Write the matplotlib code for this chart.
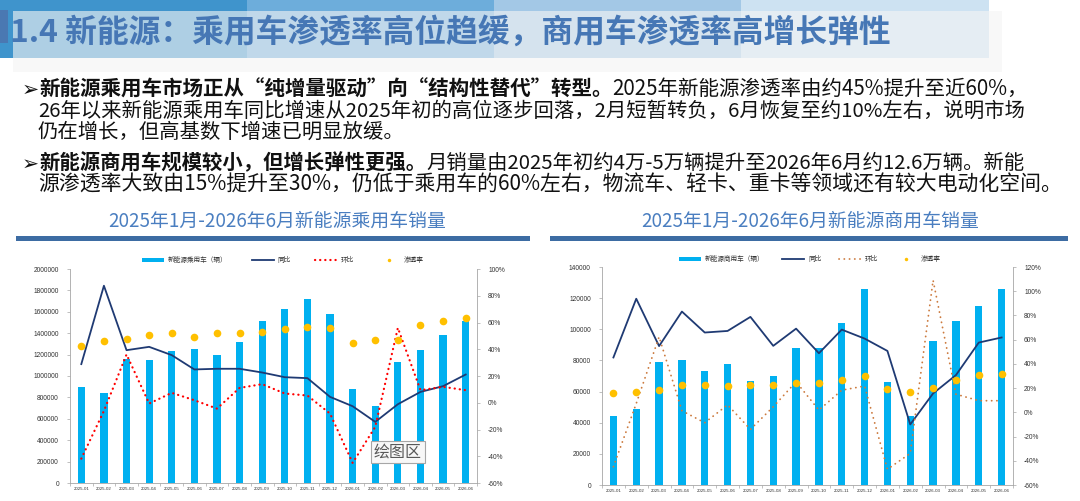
import matplotlib
matplotlib.use('Agg')
import matplotlib.pyplot as plt
from matplotlib.patches import Rectangle, Patch
from matplotlib.lines import Line2D
from matplotlib.ticker import FuncFormatter, MultipleLocator
import numpy as np

CJK = ['Noto Sans CJK SC', 'DejaVu Sans']
plt.rcParams['font.family'] = CJK
plt.rcParams['axes.unicode_minus'] = False

# ---------------- data ----------------
months = ['2025-01', '2025-02', '2025-03', '2025-04', '2025-05', '2025-06',
          '2025-07', '2025-08', '2025-09', '2025-10', '2025-11', '2025-12',
          '2026-01', '2026-02', '2026-03', '2026-04', '2026-05', '2026-06']

pv_sales = [900000, 840000, 1155000, 1145000, 1235000, 1250000, 1195000, 1320000, 1510000,
            1622000, 1719000, 1582000, 874000, 718000, 1130000, 1239000, 1379000, 1510000]
pv_yoy = [28.9, 87.5, 39.3, 41.8, 35.6, 24.9, 25.4, 25.4, 22.6, 19.1, 18.4, 4.4,
          -2.6, -14.3, -1.1, 8.1, 12.4, 21.1]
pv_mom = [-41.8, -6.1, 36.1, -0.6, 7.4, 1.9, -4.4, 11.1, 13.9, 6.9, 5.4, -8.1,
          -45.0, -18.0, 56.0, 9.4, 11.9, 9.4]
pv_pen = [42.3, 46.3, 47.3, 51.0, 52.5, 49.3, 52.5, 52.3, 53.0, 54.8, 56.3, 55.8,
          44.4, 47.1, 47.1, 58.1, 61.4, 63.1]

cv_sales = [44000, 49000, 79300, 80000, 73200, 78000, 66900, 70300, 88300, 88300,
            104300, 126000, 66300, 44200, 92300, 105600, 115000, 126000]
cv_yoy = [45.3, 93.8, 54.7, 83.2, 65.9, 67.2, 78.8, 54.9, 69.1, 48.8, 68.3, 60.9,
          50.7, -10.0, 15.6, 30.7, 57.6, 61.8]
cv_mom = [-44.9, 7.3, 62.3, 1.3, -8.6, 6.2, -14.1, 4.6, 25.2, 1.8, 18.3, 21.7,
          -47.0, -33.9, 109.0, 15.0, 9.6, 9.6]
cv_pen = [15.6, 16.4, 18.3, 22.7, 22.7, 21.6, 22.7, 22.5, 24.6, 24.6, 27.1, 30.4,
          18.9, 16.7, 20.0, 26.6, 30.7, 31.5]

title_main = '1.4 新能源：乘用车渗透率高位趋缓，商用车渗透率高增长弹性'
pv_title = '2025年1月-2026年6月新能源乘用车销量'
cv_title = '2025年1月-2026年6月新能源商用车销量'
pv_legend = ['新能源乘用车（辆）', '同比', '环比', '渗透率']
cv_legend = ['新能源商用车（辆）', '同比', '环比', '渗透率']

bullet_lines = [
    ([('➢', True), ('新能源乘用车市场正从“纯增量驱动”向“结构性替代”转型。', True),
      ('2025年新能源渗透率由约45%提升至近60%，', False)], 22, 89, 1032),
    ([('26年以来新能源乘用车同比增速从2025年初的高位逐步回落，2月短暂转负，6月恢复至约10%左右，说明市场', False)], 38, 111, 1026),
    ([('仍在增长，但高基数下增速已明显放缓。', False)], 38, 132, None),
    ([('➢', True), ('新能源商用车规模较小，但增长弹性更强。', True),
      ('月销量由2025年初约4万-5万辆提升至2026年6月约12.6万辆。新能', False)], 22, 163, 1026),
    ([('源渗透率大致由15%提升至30%，仍低于乘用车的60%左右，物流车、轻卡、重卡等领域还有较大电动化空间。', False)], 38, 185, 1063),
]

# ---------------- figure ----------------
W, H = 1080, 501
fig = plt.figure(figsize=(W / 100, H / 100), dpi=100)
fig.patch.set_facecolor('white')
renderer = fig.canvas.get_renderer()


def fx(x):
    return x / W


def fy(y):
    return 1 - y / H


def rect(x0, y0, x1, y1, **kw):
    r = Rectangle((fx(x0), fy(y1)), (x1 - x0) / W, (y1 - y0) / H,
                  transform=fig.transFigure, **kw)
    fig.add_artist(r)
    return r


# header band
block_x = [0, 247, 494, 741, 989]
block_c = ['#3F94CC', '#6DADDB', '#A3C8E6', '#CDE2F2']
for i in range(4):
    rect(block_x[i], 0, block_x[i + 1], 58, fc=block_c[i], ec='none', lw=0, zorder=1)
rect(13, 11, 1002, 72, fc='#F4F4F4', ec='none', lw=0, alpha=0.62, zorder=2)
rect(0, 10, 8, 43, fc='#4A78B2', ec='none', lw=0, zorder=3)


def fitted_text(x, y, s, target_w, fs0, **kw):
    t = fig.text(fx(x), fy(y), s, fontsize=fs0, **kw)
    w = t.get_window_extent(renderer).width
    t.set_fontsize(fs0 * target_w / w)
    return t


fitted_text(10, 33, title_main, 883, 23, color='#4677B5', va='center', ha='left',
            weight='bold', zorder=5)


# bullet text
def draw_segments(segs, x0, yc, fs):
    x = x0
    arts = []
    for s, bold in segs:
        t = fig.text(fx(x), fy(yc), s, fontsize=fs, weight='bold' if bold else 'normal',
                     va='center', ha='left', color='#111111', zorder=5)
        x += t.get_window_extent(renderer).width
        arts.append(t)
    return arts, x - x0


last_fs = 14
for segs, x0, yc, right in bullet_lines:
    if right is None:
        draw_segments(segs, x0, yc, last_fs)
        continue
    arts, w = draw_segments(segs, x0, yc, 14)
    for a in arts:
        a.remove()
    fs = 14 * (right - x0) / w
    draw_segments(segs, x0, yc, fs)
    last_fs = fs

# chart titles and separators
fitted_text(277, 221, pv_title, 337, 13.5, color='#4A7EC0', ha='center', va='center')
fitted_text(810, 221, cv_title, 337, 13.5, color='#4A7EC0', ha='center', va='center')
rect(16, 236, 530, 241, fc='#3D6CA3', ec='none', lw=0)
rect(550, 236, 1068, 241, fc='#3D6CA3', ec='none', lw=0)

# ---------------- charts ----------------
BAR_C = '#00B0F0'
NAVY = '#1F3A73'
GOLD = '#FFC000'
SPINE_C = '#A6A6A6'
TICK_FONT = ['Liberation Sans', 'DejaVu Sans']


def make_chart(px, sales, yoy, mom, pen, ymax, ystep, rmin, rmax, mom_color, mom_ls, mom_lw,
               legend_labels, leg_center, colspace):
    x0, x1, ytop, ybot = px
    ax = fig.add_axes([fx(x0), fy(ybot), (x1 - x0) / W, (ybot - ytop) / H])
    ax2 = ax.twinx()
    xs = np.arange(len(months))
    ax.bar(xs, sales, width=0.32, color=BAR_C, zorder=2)
    ax.set_xlim(-0.5, len(months) - 0.5)
    ax.set_ylim(0, ymax)
    ax.yaxis.set_major_locator(MultipleLocator(ystep))
    ax.yaxis.set_major_formatter(FuncFormatter(lambda v, p: '%d' % v))
    ax.set_xticks(xs)
    ax.set_xticklabels(months)
    ax.set_xticks(np.arange(-0.5, len(months)), minor=True)
    ax.tick_params(axis='x', which='major', length=0, labelsize=3.2, pad=3, colors='#333333')
    ax.tick_params(axis='x', which='minor', length=2, width=0.5, color=SPINE_C)
    ax.tick_params(axis='y', length=2, width=0.5, color=SPINE_C, labelsize=4.8,
                   labelcolor='#333333', pad=6)
    for lab in ax.get_xticklabels() + ax.get_yticklabels():
        lab.set_fontfamily(TICK_FONT)

    ax2.plot(xs, yoy, color=NAVY, lw=1.3, zorder=3)
    ax2.plot(xs, mom, color=mom_color, ls=mom_ls, lw=mom_lw, dash_capstyle='round', zorder=3)
    ax2.plot(xs, pen, ls='none', marker='o', ms=5.5, mfc=GOLD, mec='none', zorder=4)
    ax2.set_ylim(rmin, rmax)
    ax2.yaxis.set_major_locator(MultipleLocator(20))
    ax2.yaxis.set_major_formatter(FuncFormatter(lambda v, p: '%d%%' % round(v)))
    ax2.tick_params(axis='y', length=2, width=0.5, color=SPINE_C, labelsize=4.8,
                    labelcolor='#333333', pad=6)
    for lab in ax2.get_yticklabels():
        lab.set_fontfamily(TICK_FONT)

    for a in (ax, ax2):
        a.set_facecolor('none')
        a.spines['top'].set_visible(False)
        for s in ('left', 'right', 'bottom'):
            a.spines[s].set_color(SPINE_C)
            a.spines[s].set_linewidth(0.6)
    ax.spines['right'].set_visible(False)
    ax2.spines['left'].set_visible(False)
    ax2.spines['bottom'].set_visible(False)

    handles = [Patch(fc=BAR_C, ec='none'),
               Line2D([], [], color=NAVY, lw=1.3),
               Line2D([], [], color=mom_color, ls=mom_ls, lw=mom_lw, dash_capstyle='round'),
               Line2D([], [], ls='none', marker='o', ms=2.5, mfc=GOLD, mec='none')]
    leg = ax2.legend(handles, legend_labels, loc='center',
                     bbox_to_anchor=(fx(leg_center[0]), fy(leg_center[1])),
                     bbox_transform=fig.transFigure, ncol=4, frameon=False,
                     fontsize=4.8, handlelength=3.3, handleheight=0.6,
                     handletextpad=0.6, columnspacing=colspace, borderpad=0)
    for t in leg.get_texts():
        t.set_color('#333333')
    return ax, ax2


make_chart((70, 477, 269, 483), pv_sales, pv_yoy, pv_mom, pv_pen, 2000000, 200000, -60, 100,
           '#FF0000', (0, (0.1, 2.2)), 1.6, pv_legend, (283, 260), 3.6)
make_chart((602, 1013, 267, 485), cv_sales, cv_yoy, cv_mom, cv_pen, 140000, 20000, -60, 120,
           '#CC7A3E', (0, (0.1, 2.8)), 1.3, cv_legend, (810, 259), 2.6)

# Excel tooltip artifact
fig.text(fx(398), fy(452), '绘图区', fontsize=11.5, color='#595959', ha='center', va='center',
         zorder=10, bbox=dict(boxstyle='square,pad=0.18', fc='#F7F7F7', ec='#A6A6A6', lw=0.8))

fig.savefig('out.png', dpi=100, facecolor='white')
